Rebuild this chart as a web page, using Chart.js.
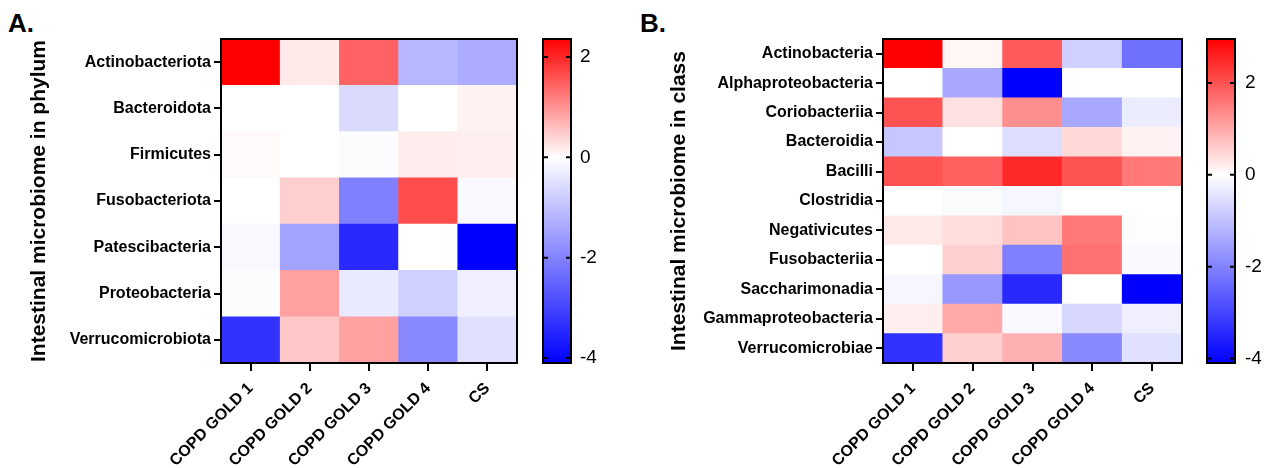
<!DOCTYPE html>
<html lang="en">
<head>
<meta charset="UTF-8">
<title>Intestinal microbiome heatmaps</title>
<script src="https://cdn.jsdelivr.net/npm/chart.js"></script>
<style>
    body {
        margin: 0;
        background: #fff;
        width: 1268px;
        height: 468px;
        position: relative;
        overflow: hidden;
        font-family: 'Liberation Sans', Arial, sans-serif;
    }

    .panel-label {
        position: absolute;
        top: 10px;
        font-weight: bold;
        font-size: 26px;
        line-height: 1;
        color: #000;
    }

    canvas {
        position: absolute;
        top: 0;
    }
</style>
</head>
<body>

<div class="panel-label" style="left:8px;">A.</div>
<div class="panel-label" style="left:640px;">B.</div>

<canvas id="heatA" width="530" height="468" style="left:0px;"></canvas>
<canvas id="barA" width="80" height="468" style="left:530px;"></canvas>
<canvas id="heatB" width="575" height="468" style="left:620px;"></canvas>
<canvas id="barB" width="73" height="468" style="left:1195px;"></canvas>

<script>
    // groups on the x axis (same for both panels)
    const groups = ['COPD GOLD 1', 'COPD GOLD 2', 'COPD GOLD 3', 'COPD GOLD 4', 'CS'];

    // panel A: phylum level, rows top to bottom
    const phyla = ['Actinobacteriota', 'Bacteroidota', 'Firmicutes', 'Fusobacteriota',
        'Patescibacteria', 'Proteobacteria', 'Verrucomicrobiota'];
    const phylumValues = [
        [2.36, 0.2, 1.45, -1.15, -1.35],
        [0, 0, -0.6, 0, 0.12],
        [0.06, 0, -0.05, 0.18, 0.16],
        [0, 0.45, -2.05, 1.65, -0.1],
        [-0.12, -1.5, -3.45, 0, -4.1],
        [-0.05, 0.87, -0.35, -0.75, -0.25],
        [-3.3, 0.52, 0.87, -1.9, -0.5]
    ];
    const phylumRange = [-4.1, 2.36];

    // panel B: class level, rows top to bottom
    const classes = ['Actinobacteria', 'Alphaproteobacteria', 'Coriobacteriia', 'Bacteroidia',
        'Bacilli', 'Clostridia', 'Negativicutes', 'Fusobacteriia', 'Saccharimonadia',
        'Gammaproteobacteria', 'Verrucomicrobiae'];
    const classValues = [
        [2.96, 0.1, 1.9, -0.75, -2.3],
        [0, -1.4, -4.1, 0, 0],
        [2.0, 0.35, 1.3, -1.4, -0.3],
        [-0.9, 0, -0.55, 0.45, 0.15],
        [2.0, 1.85, 2.5, 2.0, 1.55],
        [0, -0.05, -0.15, 0, 0],
        [0.25, 0.4, 0.7, 1.55, -0.03],
        [0, 0.55, -2.05, 1.65, -0.1],
        [-0.15, -1.65, -3.45, 0, -4.1],
        [0.2, 1.0, -0.1, -0.65, -0.25],
        [-3.3, 0.55, 0.9, -1.9, -0.5]
    ];
    const classRange = [-4.1, 2.96];

    const colorbarTicks = [2, 0, -2, -4];

    Chart.defaults.font.family = "'Liberation Sans', Arial, sans-serif";
    Chart.defaults.color = '#000';

    // white at 0, pure red at the max, pure blue at the min
    function heatColor(v, min, max) {
        if (v >= 0) {
            const c = Math.round(255 * (1 - Math.min(v / max, 1)));
            return `rgb(255,${c},${c})`;
        }
        const c = Math.round(255 * (1 - Math.min(v / min, 1)));
        return `rgb(${c},${c},255)`;
    }

    // black box round the plot area
    const framePlugin = {
        id: 'frame',
        afterDatasetsDraw(chart) {
            const { ctx, chartArea: a } = chart;
            ctx.save();
            ctx.strokeStyle = '#000';
            ctx.lineWidth = 2;
            ctx.strokeRect(a.left, a.top, a.right - a.left, a.bottom - a.top);
            ctx.restore();
        }
    };

    // small tick marks on both inner edges of the colour bar
    const innerTicks = {
        id: 'innerTicks',
        afterDatasetsDraw(chart) {
            const { ctx, chartArea: a } = chart;
            const y = chart.scales.y;
            ctx.save();
            ctx.strokeStyle = '#000';
            ctx.lineWidth = 2;
            y.ticks.forEach(t => {
                const py = y.getPixelForValue(t.value);
                ctx.beginPath();
                ctx.moveTo(a.left, py);
                ctx.lineTo(a.left + 5, py);
                ctx.moveTo(a.right - 5, py);
                ctx.lineTo(a.right, py);
                ctx.stroke();
            });
            ctx.restore();
        }
    };

    function makeHeatmap(id, rows, values, range, yTitle, yWidth, titlePad) {
        const n = rows.length;
        // first dataset sits at the bottom of the stack, so reverse
        const datasets = rows.map((name, r) => ({
            label: name,
            data: groups.map(() => 1),
            backgroundColor: values[r].map(v => heatColor(v, range[0], range[1])),
            borderWidth: 0,
            barPercentage: 1,
            categoryPercentage: 1
        })).reverse();

        return new Chart(document.getElementById(id), {
            type: 'bar',
            data: { labels: groups, datasets: datasets },
            options: {
                responsive: false,
                animation: false,
                layout: { padding: { top: 39, right: 13, left: 0, bottom: 0 } },
                plugins: { legend: { display: false }, tooltip: { enabled: false } },
                scales: {
                    x: {
                        stacked: true,
                        grid: { offset: false, drawOnChartArea: false, tickLength: 8, color: '#000', lineWidth: 2 },
                        border: { display: false },
                        ticks: {
                            font: { size: 16, weight: 'bold' },
                            maxRotation: 45,
                            minRotation: 45,
                            padding: 8
                        },
                        afterFit: s => { s.height = 105; }
                    },
                    y: {
                        stacked: true,
                        min: 0,
                        max: n,
                        afterBuildTicks: s => { s.ticks = rows.map((_, i) => ({ value: i + 0.5 })); },
                        ticks: {
                            autoSkip: false,
                            font: { size: 16, weight: 'bold' },
                            padding: 3,
                            callback: (v, i) => rows[n - 1 - i]
                        },
                        grid: { drawOnChartArea: false, tickLength: 7, color: '#000', lineWidth: 2 },
                        border: { display: false },
                        title: {
                            display: true,
                            text: yTitle,
                            font: { size: 21, weight: 'bold' },
                            padding: { top: titlePad, bottom: 0 }
                        },
                        afterFit: s => { s.width = yWidth; }
                    }
                }
            },
            plugins: [framePlugin]
        });
    }

    function barGradient(chart, range) {
        const y = chart.scales.y;
        if (!chart.chartArea || !y) return '#fff';
        const g = chart.ctx.createLinearGradient(0, y.getPixelForValue(range[1]), 0, y.getPixelForValue(range[0]));
        g.addColorStop(0, 'rgb(255,0,0)');
        g.addColorStop(range[1] / (range[1] - range[0]), '#fff');
        g.addColorStop(1, 'rgb(0,0,255)');
        return g;
    }

    function makeColorbar(id, range, padLeft, axisWidth, labelPad) {
        return new Chart(document.getElementById(id), {
            type: 'bar',
            data: {
                labels: [''],
                datasets: [{
                    data: [[range[0], range[1]]],
                    backgroundColor: ctx => barGradient(ctx.chart, range),
                    borderWidth: 0,
                    barPercentage: 1,
                    categoryPercentage: 1
                }]
            },
            options: {
                responsive: false,
                animation: false,
                layout: { padding: { top: 39, bottom: 105, left: padLeft, right: 0 } },
                plugins: { legend: { display: false }, tooltip: { enabled: false } },
                scales: {
                    x: { display: false },
                    y: {
                        position: 'right',
                        min: range[0],
                        max: range[1],
                        afterBuildTicks: s => { s.ticks = colorbarTicks.map(v => ({ value: v })); },
                        ticks: { font: { size: 19 }, padding: labelPad },
                        grid: { display: false, drawTicks: false },
                        border: { display: false },
                        afterFit: s => { s.width = axisWidth; }
                    }
                }
            },
            plugins: [framePlugin, innerTicks]
        });
    }

    makeHeatmap('heatA', phyla, phylumValues, phylumRange, 'Intestinal microbiome in phylum', 221, 27);
    makeColorbar('barA', phylumRange, 13, 39, 9);
    makeHeatmap('heatB', classes, classValues, classRange, 'Intestinal microbiome in class', 263, 47);
    makeColorbar('barB', classRange, 12, 33, 10);
</script>

</body>
</html>
